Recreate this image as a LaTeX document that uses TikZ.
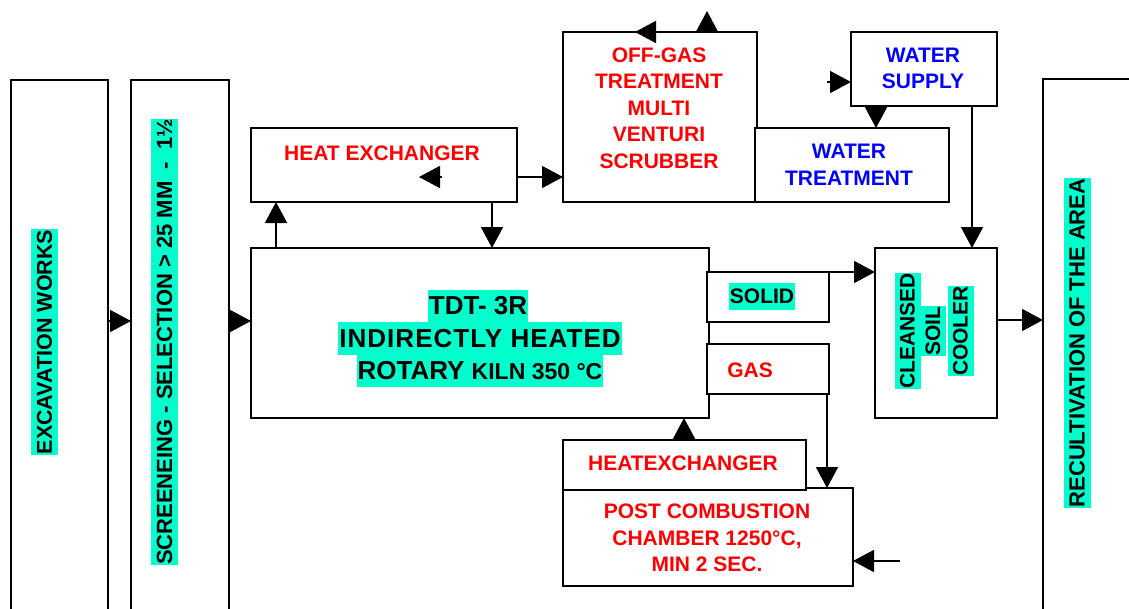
\documentclass[tikz,border=0pt]{standalone}
\usepackage{fontspec}
\setmainfont{Liberation Sans}
\newfontfamily\spacedfont[LetterSpace=4]{Liberation Sans}
\usetikzlibrary{arrows.meta}
\definecolor{hl}{RGB}{0,255,204}
\definecolor{tred}{RGB}{255,0,0}
\definecolor{tblue}{RGB}{0,0,255}
\begin{document}
\begin{tikzpicture}[x=1pt,y=-1pt,
  box/.style={draw, line width=1.8pt, inner sep=0pt, outer sep=0pt, anchor=north west},
  wbox/.style={box, fill=white},
  arr/.style={line width=1.8pt, -{Triangle[length=21pt,width=22pt]}},
  lbl/.style={font=\fontsize{21}{26.5}\selectfont\bfseries, inner sep=0pt, align=center},
  redl/.style={lbl, text=tred},
  bluel/.style={lbl, text=tblue},
  vert/.style={font=\fontsize{22}{25}\selectfont\bfseries, rotate=90, fill=hl, inner xsep=0.5pt, inner ysep=0pt, minimum height=27pt},
  kl/.style={font=\fontsize{26}{30}\selectfont\bfseries, fill=hl, inner xsep=1pt, inner ysep=0pt, minimum height=32.5pt}
]
\path[use as bounding box] (0,0) rectangle (1129,608);
\clip (0,0) rectangle (1129,608);

% boxes
\node[box, minimum width=97pt, minimum height=540pt] (exc) at (11,80) {};
\node[box, minimum width=98pt, minimum height=540pt] (scr) at (131,80) {};
\node[box, minimum width=266pt, minimum height=74pt] (hx) at (251,128) {};
\node[box, minimum width=458pt, minimum height=170pt] (kiln) at (251,248) {};
\node[wbox, minimum width=122pt, minimum height=50pt] (solid) at (707,272) {};
\node[wbox, minimum width=122pt, minimum height=50pt] (gas) at (707,344) {};
\node[box, minimum width=122pt, minimum height=170pt] (cool) at (875,248) {};
\node[box, minimum width=120pt, minimum height=545pt] (rec) at (1043,79) {};
\node[box, minimum width=194pt, minimum height=170pt] (off) at (563,32) {};
\node[box, minimum width=146pt, minimum height=74pt] (ws) at (851,32) {};
\node[wbox, minimum width=194pt, minimum height=74pt] (wt) at (755,128) {};
\node[box, minimum width=290pt, minimum height=98pt] (pcc) at (563,488) {};
\node[wbox, minimum width=243pt, minimum height=50pt] (hxb) at (563,440) {};

% texts
\node[vert, font=\fontsize{21.5}{25}\selectfont\bfseries] (texc) at (44.5,342) {EXCAVATION WORKS};
\node[vert] (tscr) at (164.5,342) {SCREENEING - SELECTION > 25 MM\ \ -\ \ 1½};
\node[vert] (trec) at (1077,343) {RECULTIVATION OF THE AREA};
\node[vert, font=\fontsize{21}{25}\selectfont\bfseries, minimum height=26pt] (tcl) at (907.5,331) {CLEANSED};
\node[vert, font=\fontsize{21}{25}\selectfont\bfseries, minimum height=26pt] (tso) at (933,331) {SOIL};
\node[vert, font=\fontsize{21}{25}\selectfont\bfseries, minimum height=26pt] (tco) at (960.5,331) {COOLER};

\node[redl] (thx) at (382,153) {HEAT EXCHANGER};
\node[redl] (toff) at (659,108) {OFF-GAS\\TREATMENT\\MULTI\\VENTURI\\SCRUBBER};
\node[bluel, text depth=0pt] (tws) at (923,68.5) {WATER\\SUPPLY};
\node[bluel] (twt) at (849,165) {WATER\\TREATMENT};
\node[lbl, fill=hl, inner xsep=1pt, minimum height=27pt] (tsol) at (762,296) {SOLID};
\node[redl] (tgas) at (750,370) {GAS};
\node[redl] (thxb) at (683,463) {HEATEXCHANGER};
\node[redl] (tpcc) at (707,538) {POST COMBUSTION\\CHAMBER 1250°C,\\MIN 2 SEC.};

\node[kl] (k1) at (478,306) {TDT- 3R};
\node[kl] (k2) at (480,338.5) {\spacedfont\bfseries INDIRECTLY HEATED};
\node[kl] (k3) at (480,371) {ROTARY {\fontsize{23}{25}\selectfont KILN 350 °C}};

% connectors
\coordinate (free1) at (442,177);
\coordinate (free2) at (419,177);
\coordinate (free3) at (660,32);
\coordinate (free4) at (635,32);
\coordinate (free5) at (707,11);
\coordinate (free6) at (827,82);
\coordinate (free7) at (900,561);

\draw[arr] (exc.east |- 0,321) -- (scr.west |- 0,321);
\draw[arr] (scr.east |- 0,321) -- (kiln.west |- 0,321);
\draw[arr] (kiln.north -| 276,0) -- (hx.south -| 276,0);
\draw[arr] (hx.south -| 492,0) -- (kiln.north -| 492,0);
\draw[arr] (free1) -- (free2);
\draw[arr] (hx.east |- 0,177) -- (off.west |- 0,177);
\draw[arr] (free3) -- (free4);
\draw[arr] (off.north -| free5) -- (free5);
\draw[arr] (free6) -- (ws.west |- free6);
\draw[arr] (ws.south -| 876,0) -- (wt.north -| 876,0);
\draw[arr] (ws.south -| 972,0) -- (cool.north -| 972,0);
\draw[arr] (solid.north east) -- (cool.west |- solid.north east);
\draw[arr] (cool.east |- 0,320) -- (rec.west |- 0,320);
\draw[arr] (hxb.north -| 684,0) -- (kiln.south -| 684,0);
\draw[arr] (gas.south -| 827,0) -- (pcc.north -| 827,0);
\draw[arr] (free7) -- (pcc.east |- free7);
\end{tikzpicture}
\end{document}
